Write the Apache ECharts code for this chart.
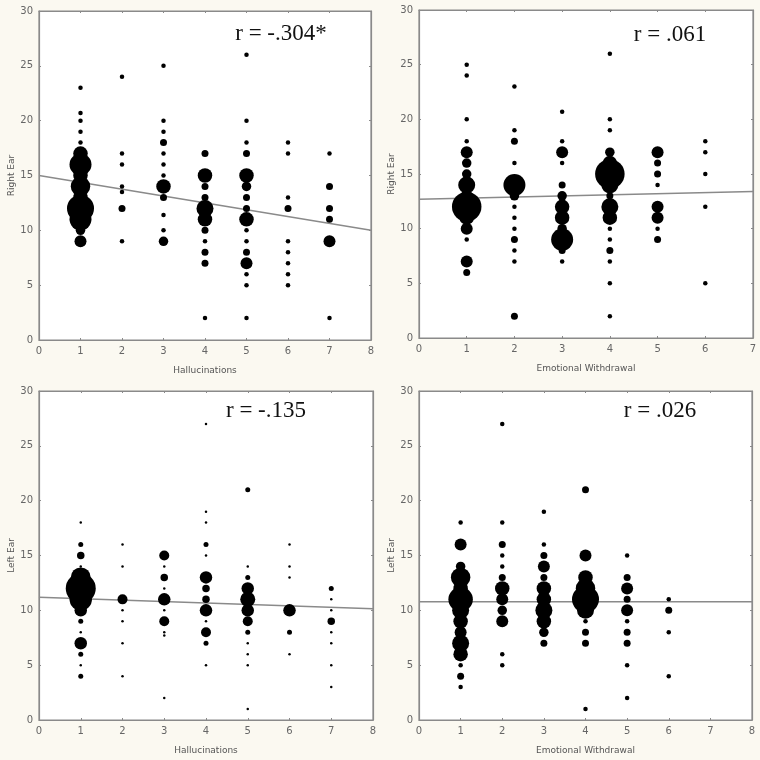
<!DOCTYPE html>
<html><head><meta charset="utf-8">
<script src="https://cdn.jsdelivr.net/npm/echarts@6/dist/echarts.min.js"></script>
<style>html,body{margin:0;padding:0;background:#fbf9f1;}#c{width:760px;height:760px;}</style>
</head><body><div id="c"></div>
<script>
// [x, y, count]
const hallRight = [
 [1,23,1],[1,20.7,1],[1,20,1],[1,19,1],[1,18,1],[1,17,5],[1,16,8],[1,15,5],[1,14,7],[1,13,5],[1,12,10],[1,11,8],[1,10,3],[1,9,4],
 [2,24,1],[2,17,1],[2,16,1],[2,14,1],[2,13.5,1],[2,12,2],[2,9,1],
 [3,25,1],[3,20,1],[3,19,1],[3,18,2],[3,17,1],[3,16,1],[3,15,1],[3,14,5],[3,13,2],[3,11.4,1],[3,10,1],[3,9,3],
 [4,17,2],[4,15,5],[4,14,2],[4,13,2],[4,12,6],[4,11,5],[4,10,2],[4,9,1],[4,8,2],[4,7,2],[4,2,1],
 [5,26,1],[5,20,1],[5,18,1],[5,17,2],[5,15,5],[5,14,3],[5,13,2],[5,12,2],[5,11,5],[5,10,1],[5,9,1],[5,8,2],[5,7,4],[5,6,1],[5,5,1],[5,2,1],
 [6,18,1],[6,17,1],[6,13,1],[6,12,2],[6,9,1],[6,8,1],[6,7,1],[6,6,1],[6,5,1],
 [7,17,1],[7,14,2],[7,12,2],[7,11,2],[7,9,4],[7,2,1]
];
const ewRight = [
 [1,25,1],[1,24,1],[1,20,1],[1,18,1],[1,17,4],[1,16,3],[1,15,3],[1,14,6],[1,13,4],[1,12,11],[1,11,5],[1,10,4],[1,9,1],[1,7,4],[1,6,2],
 [2,23,1],[2,19,1],[2,18,2],[2,16,1],[2,14,8],[2,13,3],[2,12,1],[2,11,1],[2,10,1],[2,9,2],[2,8,1],[2,7,1],[2,2,2],
 [3,20.7,1],[3,18,1],[3,17,4],[3,16,1],[3,14,2],[3,13,3],[3,12,5],[3,11,5],[3,10,3],[3,9,8],[3,8,2],[3,7,1],
 [4,26,1],[4,20,1],[4,19,1],[4,17,3],[4,16,5],[4,15,11],[4,14,6],[4,13,2],[4,12,6],[4,11,5],[4,10,1],[4,9,1],[4,8,2],[4,7,1],[4,5,1],[4,2,1],
 [5,17,4],[5,16,2],[5,15,2],[5,14,1],[5,12,4],[5,11,4],[5,10,1],[5,9,2],
 [6,18,1],[6,17,1],[6,15,1],[6,12,1],[6,5,1]
];
const hallLeft = [
 [1,18,1],[1,16,2],[1,15,3],[1,14,1],[1,13,8],[1,12,12],[1,11,9],[1,10,5],[1,9,2],[1,8,1],[1,7,5],[1,6,2],[1,5,1],[1,4,2],
 [2,16,1],[2,14,1],[2,11,4],[2,10,1],[2,9,1],[2,7,1],[2,4,1],
 [3,15,4],[3,14,1],[3,13,3],[3,12,1],[3,11,5],[3,10,1],[3,9,4],[3,8,1],[3,7.7,1],[3,2,1],
 [4,27,1],[4,19,1],[4,18,1],[4,16,2],[4,15,1],[4,13,5],[4,12,3],[4,11,3],[4,10,5],[4,9,1],[4,8,4],[4,7,2],[4,5,1],
 [5,21,2],[5,14,1],[5,13,2],[5,12,5],[5,11,6],[5,10,5],[5,9,4],[5,8,2],[5,7,1],[5,6,1],[5,5,1],[5,1,1],
 [6,16,1],[6,14,1],[6,13,1],[6,10,5],[6,8,2],[6,6,1],
 [7,12,2],[7,11,1],[7,10,1],[7,9,3],[7,8,1],[7,7,1],[7,5,1],[7,3,1]
];
const ewLeft = [
 [1,18,1],[1,16,4],[1,14,3],[1,13,7],[1,12,5],[1,11,9],[1,10,6],[1,9,5],[1,8,4],[1,7,6],[1,6,5],[1,5,1],[1,4,2],[1,3,1],
 [2,27,1],[2,18,1],[2,16,2],[2,15,1],[2,14,1],[2,13,2],[2,12,5],[2,11,4],[2,10,3],[2,9,4],[2,6,1],[2,5,1],
 [3,19,1],[3,16,1],[3,15,2],[3,14,4],[3,13,2],[3,12,5],[3,11,5],[3,10,6],[3,9,5],[3,8,3],[3,7,2],
 [4,21,2],[4,15,4],[4,13,5],[4,12,7],[4,11,10],[4,10,6],[4,9,1],[4,8,2],[4,7,2],[4,1,1],
 [5,15,1],[5,13,2],[5,12,4],[5,11,2],[5,10,4],[5,9,1],[5,8,2],[5,7,2],[5,5,1],[5,2,1],
 [6,11,1],[6,10,2],[6,8,1],[6,4,1]
];
// regression line end points
const fitHallRight = [[0,15],[8,10]];
const fitEwRight = [[0,12.7],[7,13.4]];
const fitHallLeft = [[0,11.2],[8,10.15]];
const fitEwLeft = [[0,10.78],[8,10.78]];
const rLabels = ['r = -.304*','r = .061','r = -.135','r = .026'];
const xNames = ['Hallucinations','Emotional Withdrawal','Hallucinations','Emotional Withdrawal'];
const yNames = ['Right Ear','Right Ear','Left Ear','Left Ear'];
const xMax = [8,7,8,8];

const panels = [
 {data: hallRight, fit: fitHallRight, base: 4.5, grid:{left:39, top:11, width:332, height:329}, rx:281, ry:34},
 {data: ewRight, fit: fitEwRight, base: 4.5, grid:{left:419, top:10, width:334, height:328}, rx:670, ry:35},
 {data: hallLeft, fit: fitHallLeft, base: 2.5, grid:{left:39, top:391, width:334, height:329}, rx:266, ry:411},
 {data: ewLeft, fit: fitEwLeft, base: 4.5, grid:{left:419, top:391, width:333, height:329}, rx:660, ry:411}
];

const axisGray = '#8a8a8a';
const labelStyle = {color:'#666', fontSize:10, fontFamily:'DejaVu Sans'};
const grid=[], xAxis=[], yAxis=[], series=[], graphic=[];
panels.forEach((p,i)=>{
  grid.push(Object.assign({show:true, backgroundColor:'#fff', borderColor:axisGray, borderWidth:1.2}, p.grid));
  const common = {min:0, interval:1, gridIndex:i, splitLine:{show:false}};
  xAxis.push(Object.assign({}, common, {type:'value', max:xMax[i], position:'bottom',
    axisLine:{show:true, onZero:false, lineStyle:{color:axisGray, width:1.2}},
    axisTick:{show:true, inside:true, length:2, lineStyle:{color:axisGray}},
    axisLabel:Object.assign({margin:6}, labelStyle),
    name:xNames[i], nameLocation:'middle', nameGap:26, nameTextStyle:{color:'#555', fontSize:9, fontFamily:'DejaVu Sans'}}));
  xAxis.push(Object.assign({}, common, {type:'value', max:xMax[i], position:'top',
    axisLine:{show:true, onZero:false, lineStyle:{color:axisGray, width:1.2}},
    axisTick:{show:true, inside:true, length:2, lineStyle:{color:axisGray}},
    axisLabel:{show:false}}));
  yAxis.push({type:'value', gridIndex:i, min:0, max:30, interval:5, position:'left', splitLine:{show:false},
    axisLine:{show:true, onZero:false, lineStyle:{color:axisGray, width:1.2}},
    axisTick:{show:true, inside:true, length:2, lineStyle:{color:axisGray}},
    axisLabel:Object.assign({margin:6}, labelStyle),
    name:yNames[i], nameLocation:'middle', nameGap:20, nameTextStyle:{color:'#555', fontSize:9, fontFamily:'DejaVu Sans'}});
  yAxis.push({type:'value', gridIndex:i, min:0, max:30, interval:5, position:'right', splitLine:{show:false},
    axisLine:{show:true, onZero:false, lineStyle:{color:axisGray, width:1.2}},
    axisTick:{show:true, inside:true, length:2, lineStyle:{color:axisGray}},
    axisLabel:{show:false}});
  series.push({type:'line', xAxisIndex:2*i, yAxisIndex:2*i, data:p.fit, symbol:'none', z:1,
    lineStyle:{color:'#8a8a8a', width:1.5}, silent:true});
  series.push({type:'scatter', xAxisIndex:2*i, yAxisIndex:2*i, data:p.data, z:2,
    symbol:'circle', symbolSize:(v)=>p.base + 2.5*(v[2]-1),
    itemStyle:{color:'#000', opacity:1}});
  graphic.push({type:'text', x:p.rx, y:p.ry, z:10,
    style:{text:rLabels[i], fill:'#111', font:'23px "Liberation Serif"', align:'center', verticalAlign:'middle'}});
});

const chart = echarts.init(document.getElementById('c'), null, {renderer:'canvas'});
chart.setOption({backgroundColor:'#fbf9f1', animation:false, grid, xAxis, yAxis, series, graphic});
</script>
</body></html>
